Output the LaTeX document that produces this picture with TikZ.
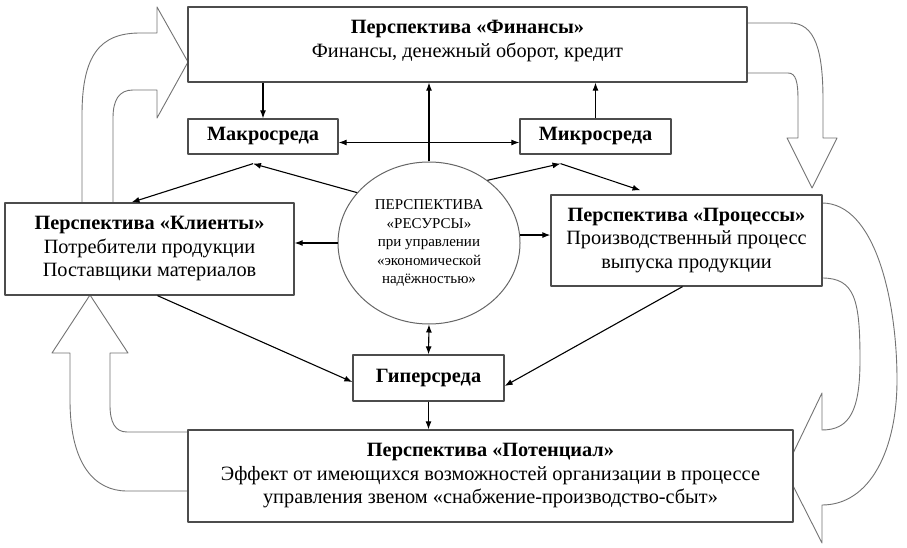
\documentclass[tikz,border=0pt]{standalone}
\usepackage{fontspec}
\setmainfont{Liberation Serif}
\usetikzlibrary{arrows.meta,calc,positioning,shapes.geometric}

\begin{document}
\begin{tikzpicture}[x=1pt,y=-1pt,>={Latex[length=8pt,width=6pt]},line join=round,
    font=\fontsize{20.3}{23.5}\selectfont]
  \tikzset{box/.style={draw=black!70,line width=1.3pt,fill=white,align=center,inner sep=0pt},
    link/.style={->,line width=1.1pt},
    blockarrow/.style={draw=black!55,line width=0.9pt,fill=white}}
  \useasboundingbox (0,0) rectangle (907,548);
  % block arrows of the cycle
  \draw[blockarrow] (82,203) -- (82,115) .. controls (82,55) and (100,33) .. (140,33) -- (157,33) -- (157,7) -- (188,62) -- (157,118) -- (157,90) -- (133,90) .. controls (119,90) and (113,100) .. (113,118) -- (113,203);
  \draw[blockarrow] (747,23) -- (790,23) .. controls (815,23) and (823,50) .. (823,100) -- (823,138) -- (837,138) -- (812,188) -- (787,138) -- (798,138) -- (798,100) .. controls (798,82) and (796,73) .. (788,73) -- (747,73);
  \draw[blockarrow] (822,203) .. controls (875,203) and (897,300) .. (897,380) .. controls (897,450) and (870,505) .. (822,505) -- (822,543) -- (785,470) -- (822,393) -- (822,430) .. controls (850,430) and (860,410) .. (860,360) .. controls (860,300) and (855,278) .. (822,278);
  \draw[blockarrow] (188,491) -- (127,491) .. controls (95,491) and (70,465) .. (70,400) -- (70,353) -- (52,353) -- (90,295) -- (128,353) -- (110,353) -- (110,405) .. controls (110,422) and (115,432) .. (127,432) -- (188,432);
  % perspectives
  \node[box,minimum width=559,minimum height=75] (fin) at (467.5,44.5) {};
  \node[align=center] (finT) at (467.5,41) {\textbf{Перспектива «Финансы»}\\Финансы, денежный оборот, кредит};
  \node[box,minimum width=150,minimum height=35] (macro) at (263,136.5) {\textbf{Макросреда}};
  \node[box,minimum width=151,minimum height=35] (micro) at (595.5,136.5) {\textbf{Микросреда}};
  \node[box,minimum width=289,minimum height=92] (cli) at (149.5,249) {\textbf{Перспектива «Клиенты»}\\Потребители продукции\\Поставщики материалов};
  \node[box,minimum width=271,minimum height=91] (proc) at (686.5,240.5) {\textbf{Перспектива «Процессы»}\\Производственный процесс\\выпуска продукции};
  \node[draw=black!60,line width=1pt,ellipse,minimum width=182,minimum height=162,inner sep=0pt,align=center,
    font=\fontsize{15}{18.5}\selectfont] (res) at (429,243) {ПЕРСПЕКТИВА\\«РЕСУРСЫ»\\при управлении\\«экономической\\надёжностью»};
  \node[box,minimum width=151,minimum height=46] (hyper) at (428.5,378) {\textbf{Гиперсреда}};
  \node[box,minimum width=605,minimum height=92] (pot) at (490.5,476) {\textbf{Перспектива «Потенциал»}\\Эффект от имеющихся возможностей организации в процессе\\управления звеном «снабжение-производство-сбыт»};
  % links
  \coordinate (macB) at ($(macro.south)+(-10,9)$);
  \coordinate (micB) at ($(micro.south)+(-35,9)$);
  \draw[link] (fin.south -| macro.north) -- (macro.north);
  \draw[link] (micro.north) -- (micro.north |- fin.south);
  \draw[link] (res.north) -- (res.north |- fin.south);
  \draw[link,<->] ([yshift=-6pt]macro.east) -- ([yshift=-6pt]micro.west);
  \draw[link] (res.145) -- (macB);
  \draw[link] (macB) -- ($(cli.north)+(-18,0)$);
  \draw[link] (res.47) -- (micB);
  \draw[link] (micB) -- ($(proc.north)+(-46,-4)$);
  \draw[link] (res.west) -- (res.west -| cli.east);
  \draw[link] (res.5) -- (res.5 -| proc.west);
  \draw[link,<->] (res.south) -- (hyper.north);
  \draw[link] (hyper.south) -- (hyper.south |- pot.north);
  \draw[link] ($(cli.south)+(8,0)$) -- ($(hyper.west)+(0,4)$);
  \draw[link] ($(proc.south)+(-4,0)$) -- ($(hyper.east)+(0,8)$);
\end{tikzpicture}
\end{document}
